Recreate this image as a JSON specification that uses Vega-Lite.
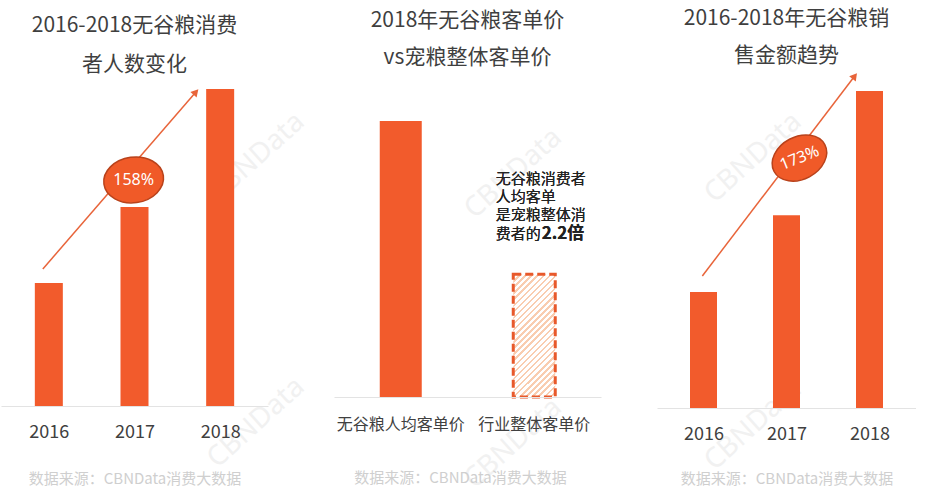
{
  "$schema": "https://vega.github.io/schema/vega-lite/v6.json",
  "background": "#ffffff",
  "padding": {"left": 1, "top": 8, "right": 0, "bottom": 0},
  "bounds": "flush",
  "spacing": 66,
  "config": {
    "font": "Noto Sans CJK SC",
    "view": {"stroke": null},
    "axis": {"zindex": 1, "grid": false, "ticks": false, "tickSize": 0, "domainColor": "#E3E3E3", "domainWidth": 1, "labelColor": "#404040", "labelFont": "Noto Sans CJK SC", "titleFont": "Noto Sans CJK SC", "titleFontWeight": "normal", "titleColor": "#CFCFCF", "titleFontSize": 15, "titleBaseline": "alphabetic"},
    "title": {"font": "Noto Sans CJK SC", "fontSize": 21, "fontWeight": "normal", "color": "#3F3F3F", "anchor": "middle"}
  },
  "hconcat": [
    {
      "width": 267,
      "height": 326,
      "title": {"text": ["2016-2018无谷粮消费", "者人数变化"], "offset": 5, "lineHeight": 39},
      "layer": [
        {
          "data": {"values": [{"year": 2018.421, "value": 201.8, "wm": "CBNData"}, {"year": 2018.421, "value": -13.8, "wm": "CBNData"}]},
          "mark": {"type": "text", "color": "#F1F1F1", "fontSize": 28, "font": "Noto Sans", "angle": -42, "align": "center", "baseline": "middle"},
          "encoding": {
            "x": {"field": "year", "type": "quantitative", "scale": {"domain": [2015.5, 2018.5], "nice": false, "zero": false},
              "axis": {"zindex": 1, "values": [2016, 2017, 2018], "format": "d", "labelFontSize": 18, "labelPadding": 17, "title": "数据来源：CBNData消费大数据", "titleY": 77}},
            "y": {"field": "value", "type": "quantitative", "scale": {"domain": [0, 265.3], "nice": false}, "axis": null},
            "text": {"field": "wm"}
          }
        },
        {
          "data": {"values": [{"year": 2016, "value": 100}, {"year": 2017, "value": 162}, {"year": 2018, "value": 258}]},
          "mark": {"type": "bar", "width": 28, "color": "#F25B2C"},
          "encoding": {
            "x": {"field": "year", "type": "quantitative"},
            "y": {"field": "value", "type": "quantitative"}
          }
        },
        {
          "data": {"values": [{"year": 2015.93, "value": 111.5}, {"year": 2017.717, "value": 255.5}]},
          "mark": {"type": "line", "color": "#E8643A", "strokeWidth": 1.5},
          "encoding": {"x": {"field": "year", "type": "quantitative"}, "y": {"field": "value", "type": "quantitative"}}
        },
        {
          "data": {"values": [{"year": 2017.717, "value": 255.5}]},
          "mark": {"type": "point", "shape": "triangle-up", "filled": true, "color": "#E8643A", "opacity": 1, "size": 70, "angle": 42},
          "encoding": {"x": {"field": "year", "type": "quantitative"}, "y": {"field": "value", "type": "quantitative"}}
        },
        {
          "data": {"values": [{"year": 2016.99, "value": 184, "label": "158%"}]},
          "layer": [
            {
              "mark": {"type": "point", "shape": "M-1,0A1,0.76,0,1,1,1,0A1,0.76,0,1,1,-1,0Z", "filled": true, "fill": "#F05A28", "stroke": "#B9421B", "strokeWidth": 1.5, "opacity": 1, "size": 3600, "angle": -8},
              "encoding": {"x": {"field": "year", "type": "quantitative"}, "y": {"field": "value", "type": "quantitative"}}
            },
            {
              "mark": {"type": "text", "color": "#ffffff", "fontSize": 16, "font": "Noto Sans", "baseline": "middle", "align": "center"},
              "encoding": {"x": {"field": "year", "type": "quantitative"}, "y": {"field": "value", "type": "quantitative"}, "text": {"field": "label"}}
            }
          ]
        }
      ]
    },
    {
      "bounds": "flush",
      "spacing": 56,
      "hconcat": [
        {
          "width": 267,
          "height": 317,
          "title": {"text": ["2018年无谷粮客单价", "vs宠粮整体客单价"], "offset": 12, "lineHeight": 37},
          "data": {"values": [{"cat": "无谷粮人均客单价", "value": 225}, {"cat": "行业整体客单价", "value": 100}]},
          "layer": [
            {
              "data": {"values": [{"cat": "行业整体客单价", "value": 197.3, "wm": "CBNData"}, {"cat": "行业整体客单价", "value": -22.8, "wm": "CBNData"}]},
              "mark": {"type": "text", "color": "#F1F1F1", "fontSize": 28, "font": "Noto Sans", "angle": -42, "align": "center", "baseline": "middle", "dx": -28},
              "encoding": {
                "x": {"field": "cat", "type": "nominal", "sort": null, "scale": {"domain": ["无谷粮人均客单价", "行业整体客单价"]},
                  "axis": {"zindex": 1, "labelAngle": 0, "labelFontSize": 16, "labelPadding": 19, "title": "数据来源：CBNData消费大数据", "titleY": 85, "titleX": 126}},
                "y": {"field": "value", "type": "quantitative", "scale": {"domain": [0, 258.4], "nice": false}, "axis": null},
                "text": {"field": "wm"}
              }
            },
            {
              "transform": [{"filter": "datum.cat === '无谷粮人均客单价'"}],
              "mark": {"type": "bar", "width": 42, "color": "#F25B2C"},
              "encoding": {
                "x": {"field": "cat", "type": "nominal", "sort": null},
                "y": {"field": "value", "type": "quantitative"}
              }
            },
            {
              "transform": [{"filter": "datum.cat === '行业整体客单价'"}],
              "mark": {"type": "bar", "width": 42, "stroke": "#E8592B", "strokeWidth": 3, "strokeDash": [8, 4],
                "fill": {"gradient": "linear", "x1": 0, "y1": 0, "x2": 0.411, "y2": 1.2016, "stops": [
                  {"offset": 0, "color": "#F9CDB0"}, {"offset": 0.0148, "color": "#F9CDB0"}, {"offset": 0.0148, "color": "#FFFFFF"}, {"offset": 0.037, "color": "#FFFFFF"},
                  {"offset": 0.037, "color": "#F9CDB0"}, {"offset": 0.0519, "color": "#F9CDB0"}, {"offset": 0.0519, "color": "#FFFFFF"}, {"offset": 0.0741, "color": "#FFFFFF"},
                  {"offset": 0.0741, "color": "#F9CDB0"}, {"offset": 0.0889, "color": "#F9CDB0"}, {"offset": 0.0889, "color": "#FFFFFF"}, {"offset": 0.1111, "color": "#FFFFFF"},
                  {"offset": 0.1111, "color": "#F9CDB0"}, {"offset": 0.1259, "color": "#F9CDB0"}, {"offset": 0.1259, "color": "#FFFFFF"}, {"offset": 0.1481, "color": "#FFFFFF"},
                  {"offset": 0.1481, "color": "#F9CDB0"}, {"offset": 0.163, "color": "#F9CDB0"}, {"offset": 0.163, "color": "#FFFFFF"}, {"offset": 0.1852, "color": "#FFFFFF"},
                  {"offset": 0.1852, "color": "#F9CDB0"}, {"offset": 0.2, "color": "#F9CDB0"}, {"offset": 0.2, "color": "#FFFFFF"}, {"offset": 0.2222, "color": "#FFFFFF"},
                  {"offset": 0.2222, "color": "#F9CDB0"}, {"offset": 0.237, "color": "#F9CDB0"}, {"offset": 0.237, "color": "#FFFFFF"}, {"offset": 0.2593, "color": "#FFFFFF"},
                  {"offset": 0.2593, "color": "#F9CDB0"}, {"offset": 0.2741, "color": "#F9CDB0"}, {"offset": 0.2741, "color": "#FFFFFF"}, {"offset": 0.2963, "color": "#FFFFFF"},
                  {"offset": 0.2963, "color": "#F9CDB0"}, {"offset": 0.3111, "color": "#F9CDB0"}, {"offset": 0.3111, "color": "#FFFFFF"}, {"offset": 0.3333, "color": "#FFFFFF"},
                  {"offset": 0.3333, "color": "#F9CDB0"}, {"offset": 0.3481, "color": "#F9CDB0"}, {"offset": 0.3481, "color": "#FFFFFF"}, {"offset": 0.3704, "color": "#FFFFFF"},
                  {"offset": 0.3704, "color": "#F9CDB0"}, {"offset": 0.3852, "color": "#F9CDB0"}, {"offset": 0.3852, "color": "#FFFFFF"}, {"offset": 0.4074, "color": "#FFFFFF"},
                  {"offset": 0.4074, "color": "#F9CDB0"}, {"offset": 0.4222, "color": "#F9CDB0"}, {"offset": 0.4222, "color": "#FFFFFF"}, {"offset": 0.4444, "color": "#FFFFFF"},
                  {"offset": 0.4444, "color": "#F9CDB0"}, {"offset": 0.4593, "color": "#F9CDB0"}, {"offset": 0.4593, "color": "#FFFFFF"}, {"offset": 0.4815, "color": "#FFFFFF"},
                  {"offset": 0.4815, "color": "#F9CDB0"}, {"offset": 0.4963, "color": "#F9CDB0"}, {"offset": 0.4963, "color": "#FFFFFF"}, {"offset": 0.5185, "color": "#FFFFFF"},
                  {"offset": 0.5185, "color": "#F9CDB0"}, {"offset": 0.5333, "color": "#F9CDB0"}, {"offset": 0.5333, "color": "#FFFFFF"}, {"offset": 0.5556, "color": "#FFFFFF"},
                  {"offset": 0.5556, "color": "#F9CDB0"}, {"offset": 0.5704, "color": "#F9CDB0"}, {"offset": 0.5704, "color": "#FFFFFF"}, {"offset": 0.5926, "color": "#FFFFFF"},
                  {"offset": 0.5926, "color": "#F9CDB0"}, {"offset": 0.6074, "color": "#F9CDB0"}, {"offset": 0.6074, "color": "#FFFFFF"}, {"offset": 0.6296, "color": "#FFFFFF"},
                  {"offset": 0.6296, "color": "#F9CDB0"}, {"offset": 0.6444, "color": "#F9CDB0"}, {"offset": 0.6444, "color": "#FFFFFF"}, {"offset": 0.6667, "color": "#FFFFFF"},
                  {"offset": 0.6667, "color": "#F9CDB0"}, {"offset": 0.6815, "color": "#F9CDB0"}, {"offset": 0.6815, "color": "#FFFFFF"}, {"offset": 0.7037, "color": "#FFFFFF"},
                  {"offset": 0.7037, "color": "#F9CDB0"}, {"offset": 0.7185, "color": "#F9CDB0"}, {"offset": 0.7185, "color": "#FFFFFF"}, {"offset": 0.7407, "color": "#FFFFFF"},
                  {"offset": 0.7407, "color": "#F9CDB0"}, {"offset": 0.7556, "color": "#F9CDB0"}, {"offset": 0.7556, "color": "#FFFFFF"}, {"offset": 0.7778, "color": "#FFFFFF"},
                  {"offset": 0.7778, "color": "#F9CDB0"}, {"offset": 0.7926, "color": "#F9CDB0"}, {"offset": 0.7926, "color": "#FFFFFF"}, {"offset": 0.8148, "color": "#FFFFFF"},
                  {"offset": 0.8148, "color": "#F9CDB0"}, {"offset": 0.8296, "color": "#F9CDB0"}, {"offset": 0.8296, "color": "#FFFFFF"}, {"offset": 0.8519, "color": "#FFFFFF"},
                  {"offset": 0.8519, "color": "#F9CDB0"}, {"offset": 0.8667, "color": "#F9CDB0"}, {"offset": 0.8667, "color": "#FFFFFF"}, {"offset": 0.8889, "color": "#FFFFFF"},
                  {"offset": 0.8889, "color": "#F9CDB0"}, {"offset": 0.9037, "color": "#F9CDB0"}, {"offset": 0.9037, "color": "#FFFFFF"}, {"offset": 0.9259, "color": "#FFFFFF"},
                  {"offset": 0.9259, "color": "#F9CDB0"}, {"offset": 0.9407, "color": "#F9CDB0"}, {"offset": 0.9407, "color": "#FFFFFF"}, {"offset": 0.963, "color": "#FFFFFF"},
                  {"offset": 0.963, "color": "#F9CDB0"}, {"offset": 0.9778, "color": "#F9CDB0"}, {"offset": 0.9778, "color": "#FFFFFF"}, {"offset": 1, "color": "#FFFFFF"}
                ]}},
              "encoding": {
                "x": {"field": "cat", "type": "nominal", "sort": null},
                "y": {"field": "value", "type": "quantitative"}
              }
            },
            {
              "mark": {"type": "text", "align": "left", "baseline": "alphabetic", "fontSize": 15, "fontWeight": "normal", "lineHeight": 18.3, "color": "#222222", "dx": -38.5},
              "encoding": {
                "x": {"datum": "行业整体客单价", "type": "nominal"},
                "y": {"datum": 173.8, "type": "quantitative"},
                "text": {"value": ["无谷粮消费者", "人均客单", "是宠粮整体消"]}
              }
            },
            {
              "mark": {"type": "text", "align": "left", "baseline": "alphabetic", "fontSize": 15, "fontWeight": "normal", "color": "#222222", "dx": -38.5},
              "encoding": {
                "x": {"datum": "行业整体客单价", "type": "nominal"},
                "y": {"datum": 129.2, "type": "quantitative"},
                "text": {"value": "费者的"}
              }
            },
            {
              "mark": {"type": "text", "align": "left", "baseline": "alphabetic", "fontSize": 17, "fontWeight": "bold", "color": "#222222", "dx": 7.5},
              "encoding": {
                "x": {"datum": "行业整体客单价", "type": "nominal"},
                "y": {"datum": 129.2, "type": "quantitative"},
                "text": {"value": "2.2倍"}
              }
            }
          ]
        },
        {
          "width": 259,
          "height": 328,
          "title": {"text": ["2016-2018年无谷粮销", "售金额趋势"], "offset": 7, "lineHeight": 37},
          "layer": [
            {
              "data": {"values": [{"year": 2016.6, "value": 215.3, "wm": "CBNData"}, {"year": 2016.6, "value": -15, "wm": "CBNData"}]},
              "mark": {"type": "text", "color": "#F1F1F1", "fontSize": 28, "font": "Noto Sans", "angle": -42, "align": "center", "baseline": "middle"},
              "encoding": {
                "x": {"field": "year", "type": "quantitative", "scale": {"domain": [2015.5, 2018.5], "nice": false, "zero": false},
                  "axis": {"zindex": 1, "values": [2016, 2017, 2018], "format": "d", "labelFontSize": 18, "labelPadding": 17, "title": "数据来源：CBNData消费大数据", "titleY": 75}},
                "y": {"field": "value", "type": "quantitative", "scale": {"domain": [0, 282.5], "nice": false}, "axis": null},
                "text": {"field": "wm"}
              }
            },
            {
              "data": {"values": [{"year": 2016, "value": 100}, {"year": 2017, "value": 166}, {"year": 2018, "value": 273}]},
              "mark": {"type": "bar", "width": 27, "color": "#F25B2C"},
              "encoding": {
                "x": {"field": "year", "type": "quantitative"},
                "y": {"field": "value", "type": "quantitative"}
              }
            },
            {
              "data": {"values": [{"year": 2015.986, "value": 113.7}, {"year": 2017.822, "value": 285.9}]},
              "mark": {"type": "line", "color": "#E8643A", "strokeWidth": 1.5},
              "encoding": {"x": {"field": "year", "type": "quantitative"}, "y": {"field": "value", "type": "quantitative"}}
            },
            {
              "data": {"values": [{"year": 2017.822, "value": 285.9}]},
              "mark": {"type": "point", "shape": "triangle-up", "filled": true, "color": "#E8643A", "opacity": 1, "size": 70, "angle": 38},
              "encoding": {"x": {"field": "year", "type": "quantitative"}, "y": {"field": "value", "type": "quantitative"}}
            },
            {
              "data": {"values": [{"year": 2017.156, "value": 215.3, "label": "173%"}]},
              "layer": [
                {
                  "mark": {"type": "point", "shape": "M-1,0A1,0.74,0,1,1,1,0A1,0.74,0,1,1,-1,0Z", "filled": true, "fill": "#F05A28", "stroke": "#B9421B", "strokeWidth": 1.5, "opacity": 1, "size": 3300, "angle": -28},
                  "encoding": {"x": {"field": "year", "type": "quantitative"}, "y": {"field": "value", "type": "quantitative"}}
                },
                {
                  "mark": {"type": "text", "color": "#ffffff", "fontSize": 16, "font": "Noto Sans", "baseline": "middle", "align": "center", "angle": -22},
                  "encoding": {"x": {"field": "year", "type": "quantitative"}, "y": {"field": "value", "type": "quantitative"}, "text": {"field": "label"}}
                }
              ]
            }
          ]
        }
      ]
    }
  ]
}
